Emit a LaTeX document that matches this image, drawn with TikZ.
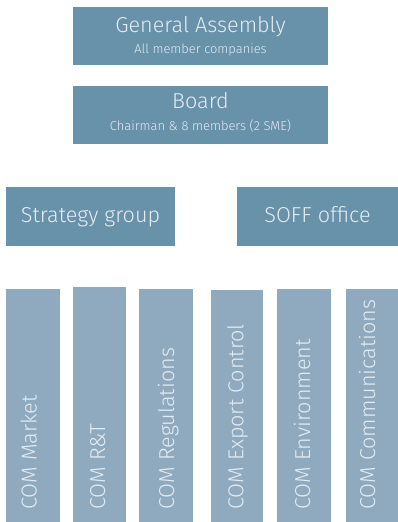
\documentclass[tikz,border=0pt]{standalone}
\usepackage{fontspec}
\setmainfont{Fira Sans Light}
\definecolor{orgdark}{HTML}{6891AA}
\definecolor{orglight}{HTML}{8FAABF}
\definecolor{orgtext}{HTML}{E4ECF1}

\begin{document}
\begin{tikzpicture}[x=1pt, y=-1pt,
	orgbox/.style={draw=none, inner sep=0pt, anchor=north west},
	darkbox/.style={orgbox, fill=orgdark},
	combox/.style={orgbox, fill=orglight},
	bigtext/.style={text=orgtext, inner sep=0pt, font=\fontsize{21.6}{24}\selectfont},
	smalltext/.style={text=orgtext, inner sep=0pt, font=\fontsize{12.9}{15}\selectfont}]

\useasboundingbox (0,0) rectangle (398,522);

%Gremien
	\node[darkbox, minimum width=255pt, minimum height=58pt] (assembly) at (73,7) {};
	\node[bigtext, anchor=base] (assemblyT) at (200.5,32) {General Assembly};
	\node[smalltext, anchor=base] (assemblyS) at (200.5,53) {All member companies};

	\node[darkbox, minimum width=255pt, minimum height=58pt] (board) at (73,86) {};
	\node[bigtext, anchor=base] (boardT) at (200.5,108) {Board};
	\node[smalltext, anchor=base] (boardS) at (200.5,130) {Chairman \& 8 members (2 SME)};

	\node[darkbox, minimum width=169pt, minimum height=59pt] (strategy) at (6,187) {};
	\node[bigtext, anchor=base] (strategyT) at (90.5,222) {Strategy group};

	\node[darkbox, minimum width=161pt, minimum height=59pt] (soff) at (237,187) {};
	\node[bigtext, anchor=base] (soffT) at (317.5,222) {SOFF office};

%Komitees
	\foreach \l/\r/\t/\b/\name [count=\k] in {6/60/289/36.7/Market, 73/126/287/105/R\&T,
		139/193/289/174/Regulations, 211/263/290/243.3/Export Control,
		277/331/289/310/Environment, 346/398/289/375/Communications}{
		\pgfmathsetmacro\w{\r-\l}
		\pgfmathsetmacro\h{522-\t}
		\node[combox, minimum width=\w pt, minimum height=\h pt] (com\k) at (\l,\t) {};
		\node[bigtext, rotate=90, anchor=base west] (comT\k) at (\b,510) {COM \name};
	}

\end{tikzpicture}
\end{document}
